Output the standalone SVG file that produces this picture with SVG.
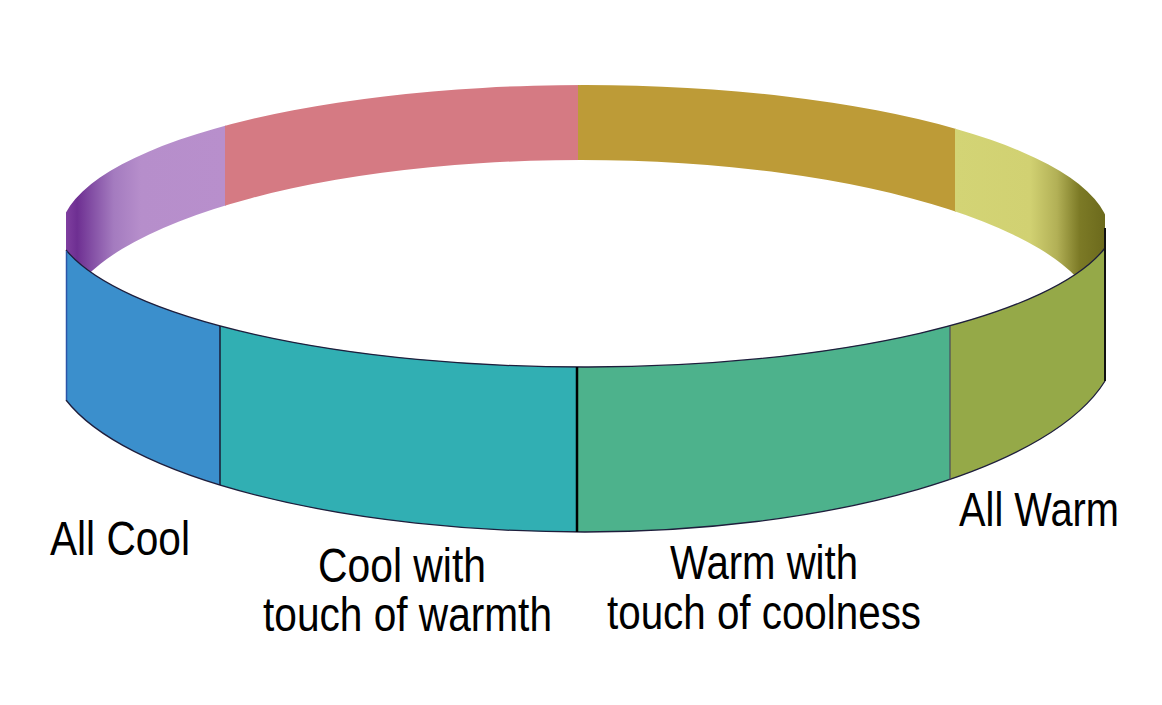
<svg xmlns="http://www.w3.org/2000/svg" width="1162" height="705" viewBox="0 0 1162 705">
  <style>
    .lbl { font-family: "Liberation Sans", Arial, sans-serif; font-size: 48px; fill: #000; }
    .edge { fill: none; stroke: #1e1e3c; stroke-width: 1.3; }
  </style>
  <defs>
    <path id="frontBand" d="M66,250 L66,400 A535,175 0 0 0 585,532 A535,193 0 0 0 1105,381 L1105,248 A533,152 0 0 1 66,250 Z"/>
    <clipPath id="backClip">
      <path clip-rule="evenodd" d="M60,235 A525,150 0 1 1 1110,235 A525,150 0 1 1 60,235 Z M61,328 A520,168 0 1 1 1101,328 A520,168 0 1 1 61,328 Z"/>
    </clipPath>
    <clipPath id="frontClip">
      <use href="#frontBand"/>
    </clipPath>
    <linearGradient id="purpleGrad" gradientUnits="userSpaceOnUse" x1="66" y1="0" x2="225" y2="0">
      <stop offset="0" stop-color="#7f3f9f"/>
      <stop offset="0.07" stop-color="#6e2f92"/>
      <stop offset="0.17" stop-color="#8551a6"/>
      <stop offset="0.3" stop-color="#a47bbf"/>
      <stop offset="0.47" stop-color="#b68ecb"/>
      <stop offset="1" stop-color="#b88fcc"/>
    </linearGradient>
    <linearGradient id="yellowGrad" gradientUnits="userSpaceOnUse" x1="955" y1="0" x2="1105" y2="0">
      <stop offset="0" stop-color="#d3d475"/>
      <stop offset="0.5" stop-color="#d1d172"/>
      <stop offset="0.68" stop-color="#b2b056"/>
      <stop offset="0.83" stop-color="#7c7a26"/>
      <stop offset="1" stop-color="#6c6a1c"/>
    </linearGradient>
  </defs>

  <rect x="0" y="0" width="1162" height="705" fill="#ffffff"/>

  <g id="back-band" clip-path="url(#backClip)">
    <rect id="back-purple" x="66" y="60" width="160" height="300" fill="url(#purpleGrad)"/>
    <rect id="back-pink" x="225" y="60" width="354" height="300" fill="#d57a83"/>
    <rect id="back-gold" x="578" y="60" width="378" height="300" fill="#bd9b37"/>
    <rect id="back-yellow" x="955" y="60" width="150" height="300" fill="url(#yellowGrad)"/>
  </g>

  <g id="front-band">
    <g clip-path="url(#frontClip)">
      <rect id="seg-all-cool" x="60" y="200" width="160" height="350" fill="#3b8fcc"/>
      <rect id="seg-cool-warmth" x="220" y="200" width="357" height="350" fill="#31afb3"/>
      <rect id="seg-warm-coolness" x="577" y="200" width="373" height="350" fill="#4db28c"/>
      <rect id="seg-all-warm" x="950" y="200" width="160" height="350" fill="#95a948"/>
    </g>
  </g>

  <g id="connectors">
    <path class="edge" d="M1105,248 A533,152 0 0 1 66,250"/>
    <path class="edge" d="M66,400 A535,175 0 0 0 585,532 A535,193 0 0 0 1105,381"/>
    <line x1="66.5" y1="251" x2="66.5" y2="400" stroke="#2a55a8" stroke-width="1.5"/>
    <line x1="1105" y1="228" x2="1105" y2="381" stroke="#111111" stroke-width="2"/>
    <line x1="220" y1="326" x2="220" y2="485" stroke="#1a1a33" stroke-width="1.5"/>
    <line x1="577" y1="367" x2="577" y2="532" stroke="#000000" stroke-width="2.5"/>
    <line x1="950" y1="326" x2="950" y2="480" stroke="#4a4a5a" stroke-width="1.2"/>
  </g>

  <g id="label-all-cool">
    <text class="lbl" x="50" y="555" textLength="140" lengthAdjust="spacingAndGlyphs">All Cool</text>
  </g>
  <g id="label-cool-warmth">
    <text class="lbl" x="318" y="582" textLength="168" lengthAdjust="spacingAndGlyphs">Cool with</text>
    <text class="lbl" x="263" y="631" textLength="289" lengthAdjust="spacingAndGlyphs">touch of warmth</text>
  </g>
  <g id="label-warm-coolness">
    <text class="lbl" x="670" y="579" textLength="188" lengthAdjust="spacingAndGlyphs">Warm with</text>
    <text class="lbl" x="607" y="629" textLength="314" lengthAdjust="spacingAndGlyphs">touch of coolness</text>
  </g>
  <g id="label-all-warm">
    <text class="lbl" x="959" y="526" textLength="160" lengthAdjust="spacingAndGlyphs">All Warm</text>
  </g>
</svg>
